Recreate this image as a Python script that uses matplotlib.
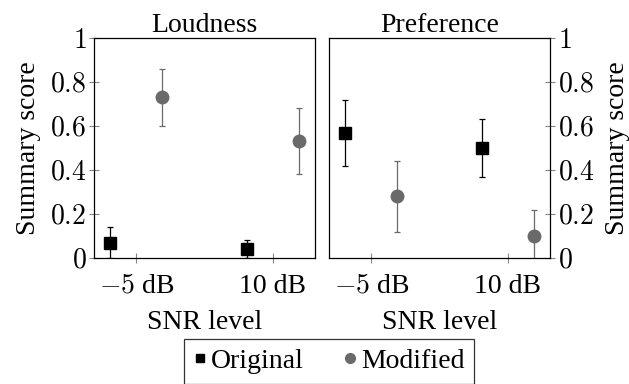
import numpy as np
import matplotlib
matplotlib.use("Agg")
import matplotlib.pyplot as plt
from matplotlib.lines import Line2D

plt.rcParams['font.family'] = ['Liberation Serif', 'DejaVu Serif']
plt.rcParams['mathtext.fontset'] = 'cm'

# data
snr_levels = ['$-5$ dB', '10 dB']
panels = ['Loudness', 'Preference']

loud_orig = [0.07, 0.04]
loud_orig_err = [0.07, 0.04]
loud_mod = [0.73, 0.53]
loud_mod_err = [0.13, 0.15]

pref_orig = [0.57, 0.50]
pref_orig_err = [0.15, 0.13]
pref_mod = [0.28, 0.10]
pref_mod_err = [0.16, 0.12]

yticks = [0, 0.2, 0.4, 0.6, 0.8, 1]
ytick_labels = ['$0$', '$0.2$', '$0.4$', '$0.6$', '$0.8$', '$1$']

orig_color = 'black'
mod_color = '#6a6a6a'
fs = 20

fig = plt.figure(figsize=(6.29, 3.84), dpi=100)
W, H = 629, 384
ax1 = fig.add_axes([94 / W, 1 - 258 / H, 221 / W, 220 / H])
ax2 = fig.add_axes([329 / W, 1 - 258 / H, 221 / W, 220 / H])

x = np.arange(len(snr_levels))
off = 0.19

series = [
    (ax1, 'Loudness', loud_orig, loud_orig_err, loud_mod, loud_mod_err),
    (ax2, 'Preference', pref_orig, pref_orig_err, pref_mod, pref_mod_err),
]

for ax, title, o, oe, m, me in series:
    ax.errorbar(x - off, o, yerr=oe, fmt='s', color=orig_color, ecolor=orig_color,
                markersize=8, elinewidth=0.9, capsize=2.2, capthick=0.9, zorder=3)
    ax.errorbar(x + off, m, yerr=me, fmt='o', color=mod_color, ecolor=mod_color,
                markersize=9, elinewidth=0.9, capsize=2.2, capthick=0.9, zorder=3)
    ax.set_xlim(-0.31, 1.31)
    ax.set_ylim(0, 1)
    ax.set_xticks(x)
    ax.set_xticklabels(snr_levels, fontsize=fs)
    ax.set_yticks(yticks)
    ax.set_yticklabels(ytick_labels, fontsize=fs)
    ax.set_title(title, fontsize=fs, pad=3)
    ax.set_xlabel('SNR level', fontsize=fs, labelpad=8)
    ax.tick_params(axis='both', direction='inout', length=7, width=0.8,
                   color='#888888', pad=2)
    ax.tick_params(axis='x', pad=8)
    for s in ax.spines.values():
        s.set_linewidth(0.9)
        s.set_color('black')

ax1.set_ylabel('Summary score', fontsize=fs, labelpad=6)
ax1.tick_params(axis='y', left=True, right=False)
ax2.yaxis.tick_right()
ax2.yaxis.set_label_position('right')
ax2.set_ylabel('Summary score', fontsize=fs, labelpad=8)
ax2.tick_params(axis='y', left=False, right=True)

handles = [
    Line2D([], [], marker='s', color=orig_color, linestyle='none', markersize=6),
    Line2D([], [], marker='o', color=mod_color, linestyle='none', markersize=7),
]
leg = fig.legend(handles, ['Original', 'Modified'], loc='upper center',
                 bbox_to_anchor=(329 / W, 1 - 339 / H), ncol=2, fontsize=fs,
                 frameon=True, fancybox=False, edgecolor='black',
                 handlelength=0.5, handletextpad=0.15, columnspacing=1.4,
                 borderpad=0.35, borderaxespad=0)
leg.get_frame().set_linewidth(0.9)

fig.savefig('out.png', dpi=100)
